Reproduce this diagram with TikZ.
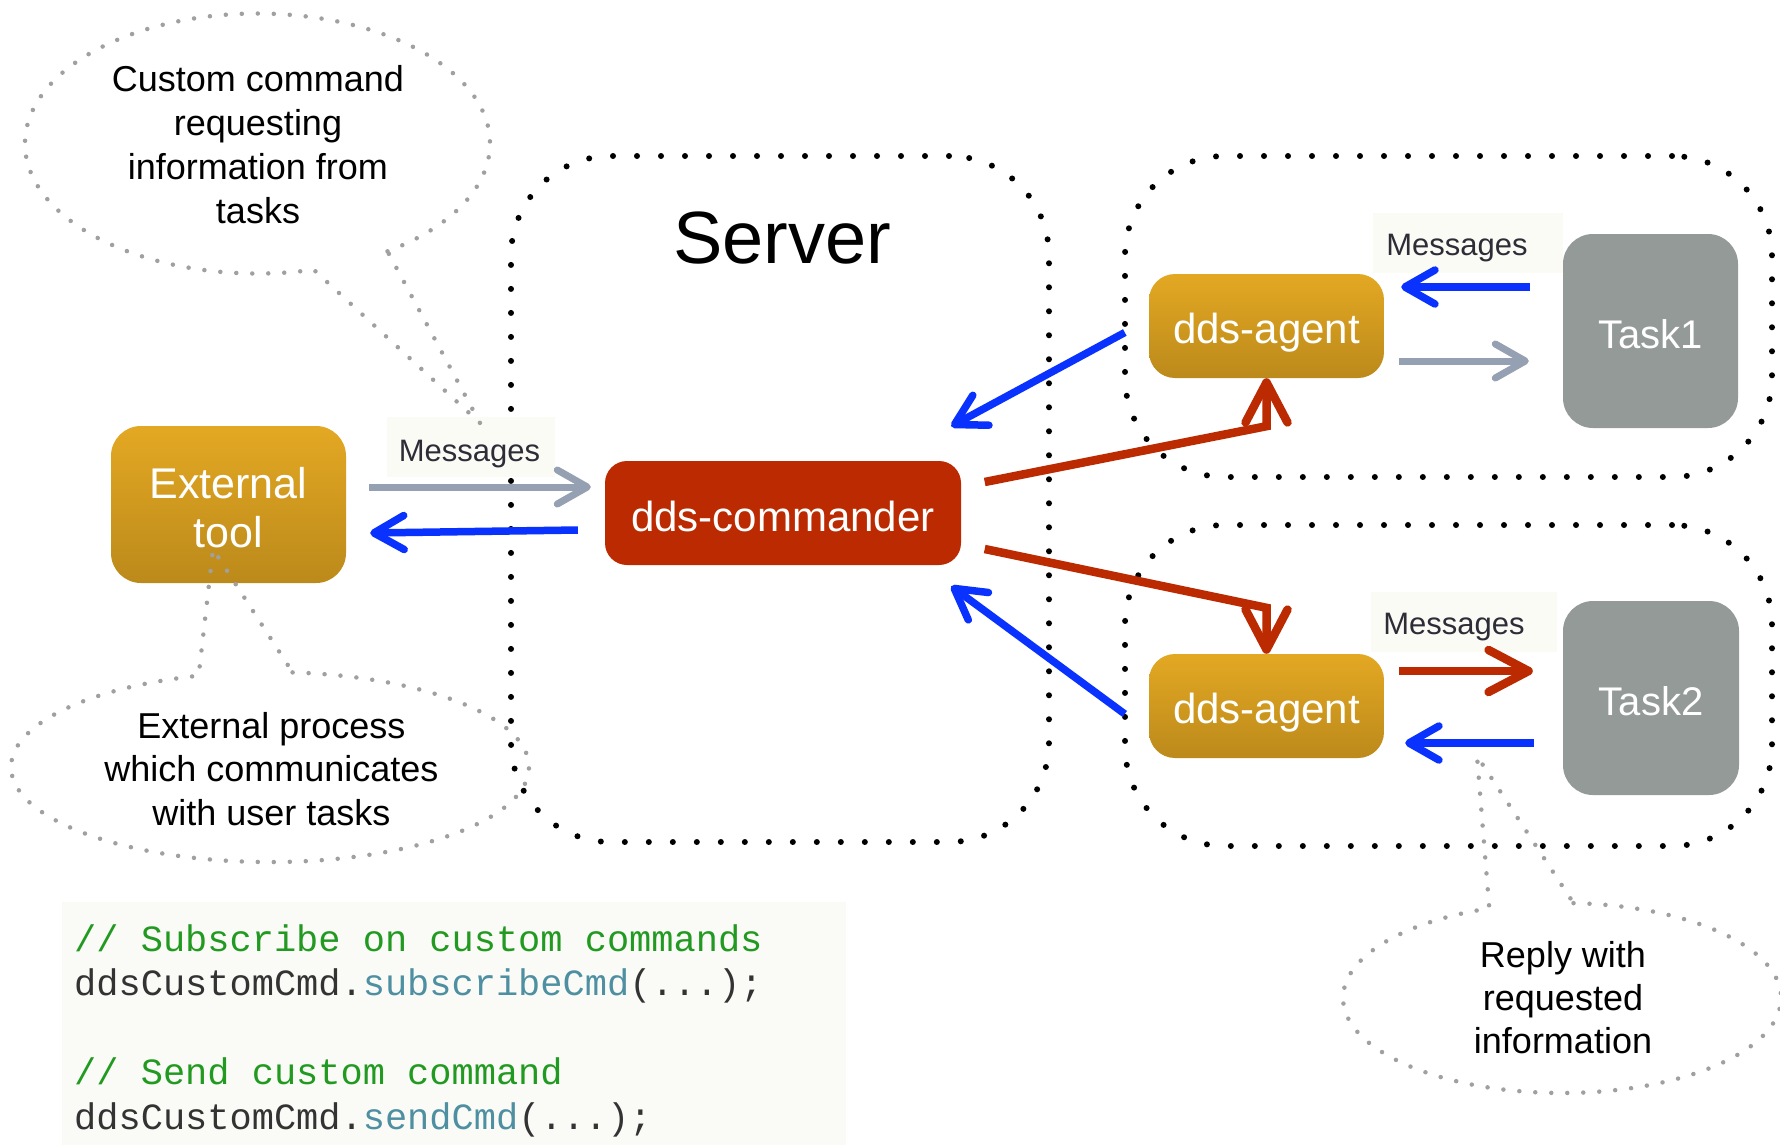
\documentclass[tikz,border=0pt]{standalone}
\usepackage{fontspec}
\setmainfont{Liberation Sans}
\setmonofont{Liberation Mono}
\usetikzlibrary{arrows.meta,calc}
\definecolor{goldtop}{HTML}{E3A823}
\definecolor{goldbot}{HTML}{BC8A1B}
\definecolor{cmdred}{HTML}{BB2A00}
\definecolor{arrowblue}{HTML}{0A32FF}
\definecolor{arrowgray}{HTML}{95A1B3}
\definecolor{taskgray}{HTML}{949A97}
\definecolor{calloutgray}{HTML}{A0A0A0}
\definecolor{msgtext}{HTML}{2D2D38}
\definecolor{msgbg}{HTML}{FAFBF4}
\definecolor{codebg}{HTML}{FAFBF6}
\definecolor{cgreen}{HTML}{229A22}
\definecolor{cteal}{HTML}{4E8FA2}
\definecolor{cdark}{HTML}{333333}
\begin{document}
\begin{tikzpicture}[x=1pt,y=-1pt,
  blackdots/.style={draw=black, line width=6pt, line cap=round, dash pattern=on 0pt off 24pt, rounded corners=100pt, inner sep=0pt},
  callout/.style={draw=calloutgray, line width=4.5pt, line cap=round, dash pattern=on 0pt off 16pt},
  goldbox/.style={draw=none, rounded corners=26pt, top color=goldtop, bottom color=goldbot, text=white, inner sep=0pt},
  cmdbox/.style={draw=none, fill=cmdred, rounded corners=22pt, text=white, inner sep=0pt, text height=36pt, text depth=0pt, font=\fontsize{42}{48}\selectfont},
  taskbox/.style={draw=none, fill=taskgray, rounded corners=30pt, text=white, inner sep=0pt, text height=35pt, text depth=0pt, font=\fontsize{40}{48}\selectfont},
  agentfont/.style={text height=35pt, text depth=0pt, font=\fontsize{42}{48}\selectfont},
  msgbgbox/.style={fill=msgbg, draw=none, inner sep=0pt},
  msgtxt/.style={text=msgtext, inner sep=0pt, font=\fontsize{31}{36}\selectfont},
  callouttxt/.style={text=black, inner sep=0pt, align=center},
  codeline/.style={inner sep=0pt, text=cdark, font=\ttfamily\fontsize{37}{44}\selectfont},
  grayarr/.style={draw=arrowgray, line width=7pt, -{Straight Barb[length=30pt,width=34pt,round]}},
  bluearr/.style={draw=arrowblue, line width=7.5pt, -{Straight Barb[length=30pt,width=34pt,round]}},
  redarr/.style={draw=cmdred, line width=8.5pt, -{Straight Barb[length=40pt,width=42pt,round]}}
]
\useasboundingbox (0,0) rectangle (1780,1144);
\fill[white] (0,0) rectangle (1780,1144);

% dotted containers
\node[blackdots, minimum width=538pt, minimum height=686pt] (srv) at (780,499) {};
\node[blackdots, minimum width=647pt, minimum height=321pt] (grp1) at (1448.5,316.5) {};
\node[blackdots, minimum width=647pt, minimum height=321pt] (grp2) at (1448.5,685.5) {};

\node[anchor=base, inner sep=0pt, font=\fontsize{74}{80}\selectfont] (srvlabel) at (782,263) {Server};

% code block
\node[fill=codebg, draw=none, minimum width=784pt, minimum height=250pt, inner sep=0pt] (codebgnode) at (454,1027) {};
\node[codeline, anchor=base west] (code1) at (74,951) {\textcolor{cgreen}{// Subscribe on custom commands}};
\node[codeline, anchor=base west] (code2) at (74,995) {ddsCustomCmd.\textcolor{cteal}{subscribeCmd}(...);};
\node[codeline, anchor=base west] (code3) at (74,1084) {\textcolor{cgreen}{// Send custom command}};
\node[codeline, anchor=base west] (code4) at (74,1129) {ddsCustomCmd.\textcolor{cteal}{sendCmd}(...);};

% message label backgrounds
\node[msgbgbox, minimum width=168pt, minimum height=60pt] (mLbg) at (471,447) {};
\node[msgbgbox, minimum width=190pt, minimum height=60pt] (m1bg) at (1468,243) {};
\node[msgbgbox, minimum width=186pt, minimum height=60pt] (m2bg) at (1464,622) {};

% boxes
\node[goldbox, rounded corners=30pt, minimum width=235pt, minimum height=157pt, align=center, text height=86pt, text depth=0pt, font=\fontsize{43}{49}\selectfont] (ext) at (228.5,504.5) {External\\tool};
\node[cmdbox, minimum width=356pt, minimum height=104pt] (cmd) at (783,513) {dds-commander};
\node[goldbox, agentfont, minimum width=235pt, minimum height=104pt] (ag1) at (1266.5,326) {dds-agent};
\node[goldbox, agentfont, minimum width=235pt, minimum height=104pt] (ag2) at (1266.5,706) {dds-agent};
\node[taskbox, minimum width=175pt, minimum height=194pt] (t1) at (1650.5,331) {Task1};
\node[taskbox, minimum width=176pt, minimum height=194pt] (t2) at (1651,698) {Task2};

% arrows
\draw[grayarr] ($(ext.east)+(23,-17.5)$) -- ($(cmd.west)+(-14,-26)$);
\draw[bluearr] ($(cmd.west)+(-27,17)$) -- ($(ext.east)+(24,28.5)$);
\draw[bluearr] ($(ag1.west)+(-24,6.5)$) -- ($(cmd.north east)+(-10,-34.5)$);
\draw[redarr] ($(cmd.east)+(23.5,-31)$) -- ($(ag1.south)+(0,48)$) -- (ag1.south);
\draw[redarr] ($(cmd.east)+(23.5,36)$) -- ($(ag2.north)+(0,-46)$) -- (ag2.north);
\draw[bluearr] ($(ag2.west)+(-24,8)$) -- ($(cmd.south east)+(-10,21)$);
\draw[bluearr] ($(t1.west)+(-33,-44)$) -- ($(ag1.east)+(17,-39)$);
\draw[grayarr] ($(ag1.east)+(15,35)$) -- ($(t1.west)+(-34,30)$);
\draw[redarr] ($(ag2.east)+(15,-35)$) -- ($(t2.west)+(-30,-27)$);
\draw[bluearr] ($(t2.west)+(-29,45)$) -- ($(ag2.east)+(21,37)$);

% message texts
\node[msgtxt, anchor=base] (mL) at (469.5,461) {Messages};
\node[msgtxt, anchor=base] (m1) at (1457,255.5) {Messages};
\node[msgtxt, anchor=base] (m2) at (1454,634) {Messages};

% callouts
\draw[callout] (387.5,251.3) arc[start angle=56, end angle=-284, x radius=232.5, y radius=130] -- (480,423) -- cycle;
\node[callouttxt, anchor=base, font=\fontsize{36}{44}\selectfont] (c1) at (258,223) {Custom command\\requesting\\information from\\tasks};

\draw[callout] (292.6,672.4) arc[start angle=-85, end angle=254, x radius=259, y radius=95] -- (213,549) -- cycle;
\node[callouttxt, anchor=base, font=\fontsize{36}{43.5}\selectfont] (c2) at (271.5,825) {External process\\which communicates\\with user tasks};

\draw[callout] (1573.5,903.1) arc[start angle=-87, end angle=250.6, x radius=219, y radius=95] -- (1477,756) -- cycle;
\node[callouttxt, anchor=base, font=\fontsize{36}{43}\selectfont] (c3) at (1563,1053) {Reply with\\requested\\information};
\end{tikzpicture}
\end{document}
